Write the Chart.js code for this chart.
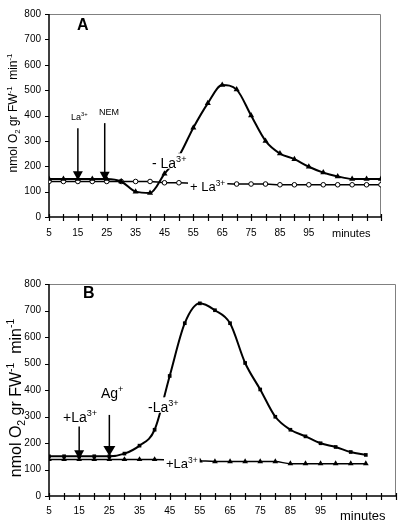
<!DOCTYPE html>
<html>
<head>
<meta charset="utf-8">
<script src="https://cdn.jsdelivr.net/npm/chart.js@4.4.1/dist/chart.umd.min.js"></script>
<style>
    body { margin: 0; background: #fff; width: 400px; height: 522px; overflow: hidden; position: relative; }
    .panel { position: absolute; left: 0; width: 400px; }
</style>
</head>
<body>
<div class="panel" style="top:0;height:270px"><canvas id="chartA" width="400" height="270"></canvas></div>
<div class="panel" style="top:270px;height:252px"><canvas id="chartB" width="400" height="252"></canvas></div>
<script>
// panel A: minutes vs O2 uptake, with / without La3+ (NEM added at 25 min)
const minutesA = [5, 10, 15, 20, 25, 30, 35, 40, 45, 50, 55, 60, 65, 70, 75, 80, 85, 90, 95, 100, 105, 110, 115, 120];
const minusLaA = [150, 150, 150, 150, 150, 140, 100, 95, 170, 240, 352, 448, 520, 502, 400, 300, 250, 228, 198, 175, 160, 150, 150, 150];
const plusLaA  = [140, 140, 140, 140, 140, 140, 140, 140, 135, 135, 133, 133, 132, 130, 130, 130, 127, 127, 127, 127, 127, 127, 127, 127];

// panel B: Ag+ added at 25 min
const minutesB = [5, 10, 15, 20, 25, 30, 35, 40, 45, 50, 55, 60, 65, 70, 75, 80, 85, 90, 95, 100, 105, 110];
const minusLaB = [150, 150, 150, 150, 150, 160, 190, 250, 453, 652, 727, 701, 652, 502, 402, 299, 250, 225, 199, 185, 166, 155];
const plusLaB  = [138, 138, 138, 138, 138, 138, 138, 138, 136, 135, 133, 130, 130, 130, 130, 130, 122, 122, 122, 122, 122, 122];

const xLabels = [5, 15, 25, 35, 45, 55, 65, 75, 85, 95];
const yMax = 800;
const xMin = 5, xMax = 120;

const FONT = '"Liberation Sans", Arial, sans-serif';

function pts(xs, ys) {
    return xs.map((m, i) => ({ x: m, y: ys[i] }));
}

// text with sub/superscripts: parts = [[text, shift]] shift 1 = sup, -1 = sub
function partsWidth(ctx, parts, size, bold) {
    let w = 0;
    parts.forEach(p => {
        ctx.font = (bold ? 'bold ' : '') + (p[1] ? size * 0.65 : size) + 'px ' + FONT;
        w += ctx.measureText(p[0]).width;
    });
    return w;
}
function drawParts(ctx, parts, x, y, size, bold) {
    let cx = x;
    parts.forEach(p => {
        const fs = p[1] ? size * 0.65 : size;
        ctx.font = (bold ? 'bold ' : '') + fs + 'px ' + FONT;
        const dy = p[1] === 1 ? -size * 0.42 : (p[1] === -1 ? size * 0.22 : 0);
        ctx.fillText(p[0], cx, y + dy);
        cx += ctx.measureText(p[0]).width;
    });
}

const extras = {
    id: 'extras',
    beforeDatasetsDraw(chart, args, o) {
        const { ctx, chartArea: a, scales: { x, y } } = chart;
        ctx.save();
        // thin frame top / right
        ctx.strokeStyle = '#808080';
        ctx.lineWidth = 1;
        ctx.beginPath();
        ctx.moveTo(a.left, a.top + 0.5);
        ctx.lineTo(a.right - 0.5, a.top + 0.5);
        ctx.lineTo(a.right - 0.5, a.bottom);
        ctx.stroke();
        // axes
        ctx.strokeStyle = '#000';
        ctx.lineWidth = 1.5;
        ctx.beginPath();
        ctx.moveTo(a.left, a.top);
        ctx.lineTo(a.left, a.bottom);
        ctx.lineTo(a.right, a.bottom);
        ctx.stroke();
        ctx.lineWidth = 1.2;
        ctx.beginPath();
        for (let m = xMin; m <= xMax; m += 5) {
            const px = Math.round(x.getPixelForValue(m)) + 0.5;
            ctx.moveTo(px, a.bottom - 3);
            ctx.lineTo(px, a.bottom + 4);
        }
        for (let v = 0; v <= yMax; v += 100) {
            const py = Math.round(y.getPixelForValue(v)) + 0.5;
            ctx.moveTo(a.left - 4, py);
            ctx.lineTo(a.left, py);
        }
        ctx.stroke();
        ctx.restore();
    },
    afterDatasetsDraw(chart, args, o) {
        const { ctx, scales: { x, y } } = chart;
        ctx.save();
        ctx.fillStyle = '#000';
        ctx.strokeStyle = '#000';
        ctx.textBaseline = 'alphabetic';
        ctx.textAlign = 'left';

        o.arrows.forEach(ar => {
            const px = x.getPixelForValue(ar.x);
            const top = y.getPixelForValue(ar.from);
            const tip = y.getPixelForValue(ar.to);
            ctx.lineWidth = 1.5;
            ctx.beginPath();
            ctx.moveTo(px, top);
            ctx.lineTo(px, tip - ar.hh + 1);
            ctx.stroke();
            ctx.beginPath();
            ctx.moveTo(px - ar.hw, tip - ar.hh);
            ctx.lineTo(px + ar.hw, tip - ar.hh);
            ctx.lineTo(px, tip);
            ctx.closePath();
            ctx.fill();
        });

        o.labels.forEach(lb => {
            if (lb.bg) {
                const w = partsWidth(ctx, lb.parts, lb.size, lb.bold);
                ctx.fillStyle = '#fff';
                ctx.fillRect(lb.x - 2, lb.y - lb.size * 1.05, w + 4, lb.size * 1.1);
                ctx.fillStyle = '#000';
            }
            drawParts(ctx, lb.parts, lb.x, lb.y, lb.size, lb.bold);
        });

        // y axis title, rotated
        const t = o.yTitle;
        const tw = partsWidth(ctx, t.parts, t.size, false);
        ctx.translate(t.x, t.cy);
        ctx.rotate(-Math.PI / 2);
        drawParts(ctx, t.parts, -tw / 2, 0, t.size, false);
        ctx.restore();
    }
};

const yTitleParts = [['nmol O', 0], ['2', -1], [' gr FW', 0], ['-1', 1], ['  min', 0], ['-1', 1]];

function makeOptions(pad, xHeight, tickPad, ex) {
    return {
        responsive: false,
        animation: false,
        events: [],
        layout: { padding: pad },
        scales: {
            x: {
                type: 'linear',
                min: xMin,
                max: xMax,
                grid: { display: false },
                border: { display: false },
                afterFit: s => { s.height = xHeight; },
                ticks: {
                    stepSize: 5,
                    autoSkip: false,
                    maxRotation: 0,
                    padding: tickPad,
                    color: '#000',
                    font: { family: FONT, size: 10 },
                    callback: v => xLabels.includes(v) ? String(v) : ''
                }
            },
            y: {
                min: 0,
                max: yMax,
                grid: { display: false, drawTicks: false },
                border: { display: false },
                afterFit: s => { s.width = 49; },
                ticks: {
                    stepSize: 100,
                    padding: 8,
                    color: '#000',
                    font: { family: FONT, size: 10 }
                }
            }
        },
        plugins: {
            legend: { display: false },
            tooltip: { enabled: false },
            extras: ex
        }
    };
}

new Chart(document.getElementById('chartA'), {
    type: 'line',
    plugins: [extras],
    data: {
        datasets: [{
            label: '- La3+',
            data: pts(minutesA, minusLaA),
            borderColor: '#000',
            backgroundColor: '#000',
            borderWidth: 2,
            cubicInterpolationMode: 'monotone',
            pointStyle: 'triangle',
            pointRadius: 3.5,
            pointBorderWidth: 0
        }, {
            label: '+ La3+',
            data: pts(minutesA, plusLaA),
            borderColor: '#000',
            backgroundColor: '#fff',
            borderWidth: 1.5,
            cubicInterpolationMode: 'monotone',
            pointStyle: 'circle',
            pointRadius: 2.3,
            pointBorderWidth: 1,
            pointBorderColor: '#000'
        }]
    },
    options: makeOptions({ left: 0, right: 19, top: 7, bottom: 0 }, 53, 2, {
        arrows: [
            { x: 15, from: 350, to: 145, hw: 5, hh: 9 },
            { x: 24.3, from: 370, to: 143, hw: 5, hh: 9 }
        ],
        labels: [
            { parts: [['A', 0]], x: 77, y: 30, size: 16, bold: true },
            { parts: [['La', 0], ['3+', 1]], x: 71, y: 120, size: 9 },
            { parts: [['NEM', 0]], x: 99, y: 115, size: 9 },
            { parts: [['- La', 0], ['3+', 1]], x: 152, y: 168, size: 14, bg: true },
            { parts: [['+ La', 0], ['3+', 1]], x: 190, y: 191, size: 13, bg: true },
            { parts: [['minutes', 0]], x: 332, y: 237, size: 11 }
        ],
        yTitle: { parts: yTitleParts, x: 17, cy: 113, size: 12 }
    })
});

new Chart(document.getElementById('chartB'), {
    type: 'line',
    plugins: [extras],
    data: {
        datasets: [{
            label: '-La3+',
            data: pts(minutesB, minusLaB),
            borderColor: '#000',
            backgroundColor: '#000',
            borderWidth: 2,
            cubicInterpolationMode: 'monotone',
            pointStyle: 'rect',
            pointRadius: 2.6,
            pointBorderWidth: 0
        }, {
            label: '+La3+',
            data: pts(minutesB, plusLaB),
            borderColor: '#000',
            backgroundColor: '#000',
            borderWidth: 1.5,
            cubicInterpolationMode: 'monotone',
            pointStyle: 'triangle',
            pointRadius: 3.3,
            pointBorderWidth: 0
        }]
    },
    options: makeOptions({ left: 0, right: 4, top: 9, bottom: 0 }, 26, 1, {
        arrows: [
            { x: 15, from: 262, to: 139, hw: 5, hh: 9 },
            { x: 25, from: 306, to: 151, hw: 6, hh: 10 }
        ],
        labels: [
            { parts: [['B', 0]], x: 83, y: 28, size: 16, bold: true },
            { parts: [['+La', 0], ['3+', 1]], x: 63, y: 152, size: 14 },
            { parts: [['Ag', 0], ['+', 1]], x: 101, y: 128, size: 14 },
            { parts: [['-La', 0], ['3+', 1]], x: 148, y: 142, size: 14, bg: true },
            { parts: [['+La', 0], ['3+', 1]], x: 166, y: 198, size: 13, bg: true },
            { parts: [['minutes', 0]], x: 340, y: 250, size: 13 }
        ],
        yTitle: { parts: yTitleParts, x: 21, cy: 128, size: 16 }
    })
});
</script>
</body>
</html>
